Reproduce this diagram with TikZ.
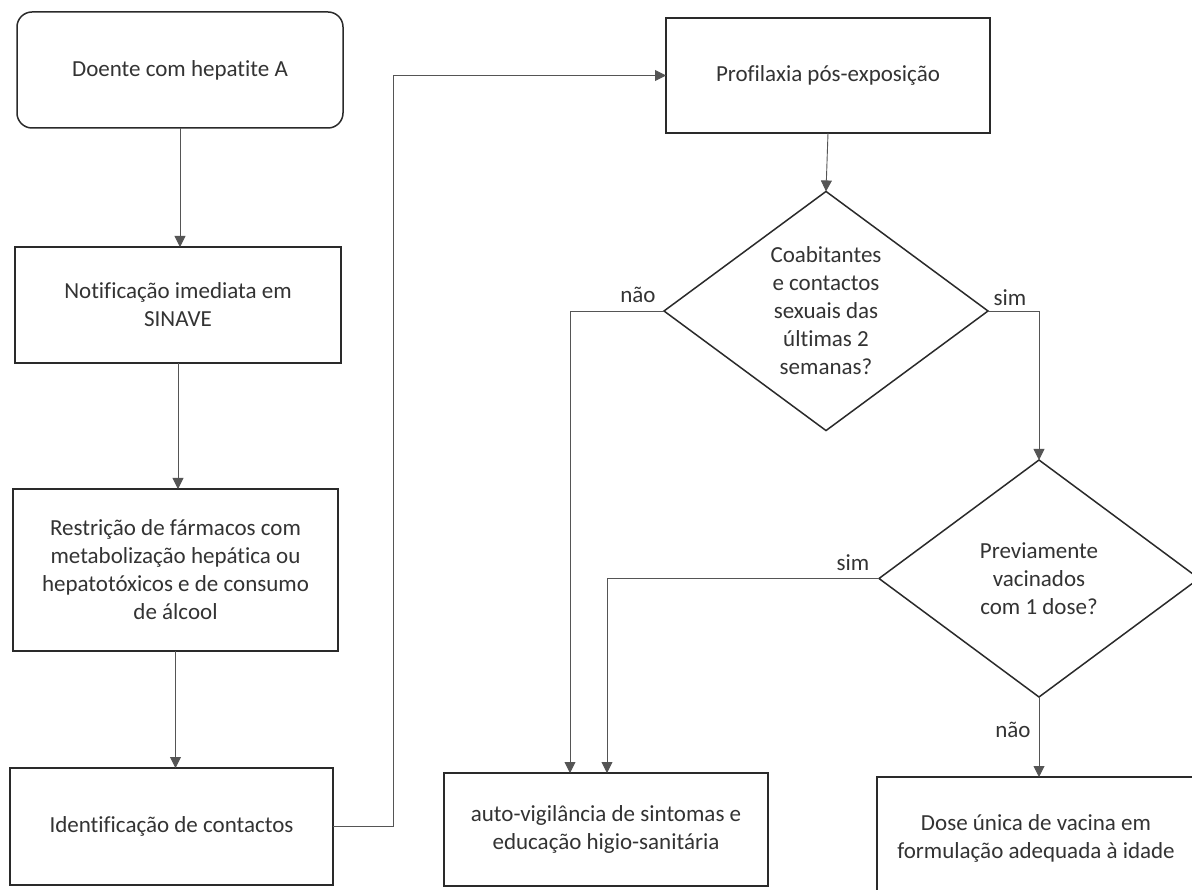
\documentclass[tikz,border=0pt]{standalone}
\usepackage{fontspec}
\setmainfont{Carlito}[Ligatures=NoCommon]
\usetikzlibrary{shapes.geometric,arrows.meta}
\definecolor{ink}{HTML}{2A2A2A}
\definecolor{txt}{HTML}{333333}
\definecolor{wire}{HTML}{555555}
\begin{document}
\begin{tikzpicture}[x=1pt,y=-1pt,
  every node/.style={font=\fontsize{23}{28}\selectfont, text=txt},
  box/.style={draw=ink, line width=1.5pt, rectangle, inner sep=0pt, outer sep=0pt, align=center},
  rbox/.style={box, rounded corners=15pt},
  dec/.style={draw=ink, line width=1.5pt, diamond, inner sep=0pt, outer sep=0pt, align=center},
  conn/.style={draw=wire, line width=0.9pt, -{Triangle[width=11pt,length=11pt]}},
  lbl/.style={inner sep=0pt}]
\useasboundingbox (0,0) rectangle (1192,890);
\fill[white] (0,0) rectangle (1192,890);

% left column
\node[rbox, minimum width=326pt, minimum height=116pt] (doente) at (180,70) {Doente com hepatite A};
\node[box, minimum width=326pt, minimum height=116pt] (notif) at (178,305) {Notificação imediata em\\SINAVE};
\node[box, minimum width=325pt, minimum height=162pt] (restr) at (175.5,570) {Restrição de fármacos com\\metabolização hepática ou\\hepatotóxicos e de consumo\\de álcool};
\node[box, minimum width=323pt, minimum height=117pt] (ident) at (171.5,826.5) {Identificação de contactos};

% right part
\node[box, minimum width=324pt, minimum height=115pt] (prof) at (828,75.5) {Profilaxia pós-exposição};
\node[dec, minimum width=324pt, minimum height=235pt] (d1) at (826,311) {Coabitantes\\e contactos\\sexuais das\\últimas 2\\semanas?};
\node[dec, minimum width=320pt, minimum height=237pt] (d2) at (1039,578.5) {Previamente\\vacinados\\com 1 dose?};
\node[box, minimum width=324pt, minimum height=113pt] (aux) at (606,829.5) {auto-vigilância de sintomas e\\educação higio-sanitária};
\node[box, minimum width=318pt, minimum height=122pt] (dose) at (1036,838) {Dose única de vacina em\\formulação adequada à idade};

% connectors
\draw[conn] (doente.south) -- (doente.south |- notif.north);
\draw[conn] (notif.south) -- (notif.south |- restr.north);
\draw[conn] (restr.south) -- (restr.south |- ident.north);

\coordinate (k) at (393,75.5);
\draw[conn] (ident.east) -| (k) -- (prof.west);
\draw[conn] (prof.south) -- (d1.north);

\coordinate (n1) at (570,0);
\draw[conn] (d1.west) -| (n1 |- aux.north);
\coordinate (s2) at (607,0);
\draw[conn] (d2.west) -| (s2 |- aux.north);
\draw[conn] (d1.east) -| (d2.north);
\draw[conn] (d2.south) -- (d2.south |- dose.north);

% labels
\node[lbl] (l1) at (638,295) {não};
\node[lbl] (l2) at (1010,298) {sim};
\node[lbl] (l3) at (853,563) {sim};
\node[lbl] (l4) at (1013,730) {não};
\end{tikzpicture}
\end{document}
